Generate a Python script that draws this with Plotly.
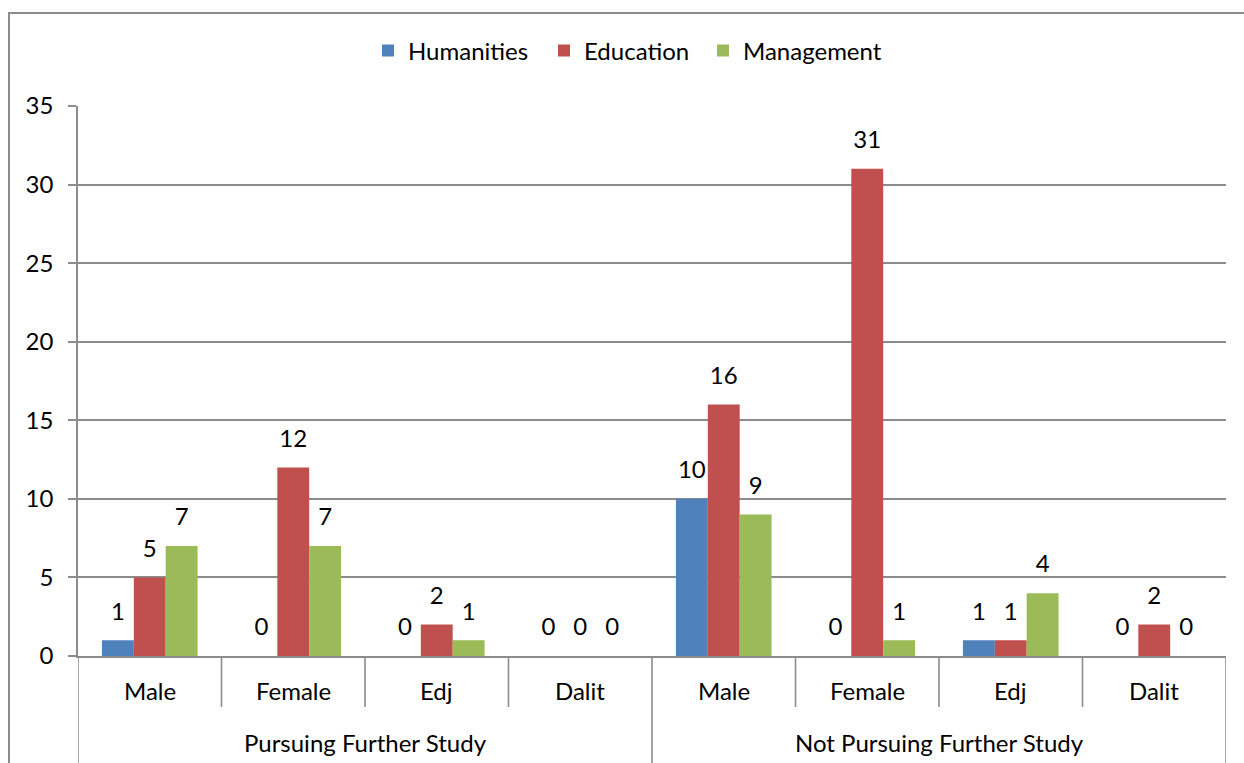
import plotly.graph_objects as go

groups = ["Pursuing Further Study", "Not Pursuing Further Study"]
subcats = ["Male", "Female", "Edj", "Dalit", "Male", "Female", "Edj", "Dalit"]
humanities = [1, 0, 0, 0, 10, 0, 1, 0]
education = [5, 12, 2, 0, 16, 31, 1, 2]
management = [7, 7, 1, 0, 9, 1, 4, 0]
series_names = ["Humanities", "Education", "Management"]
colors = ["#4F81BD", "#C0504D", "#9BBB59"]

FONT = "Lato"
FS = 24
GRID = "#8c8c8c"
xpos = list(range(len(subcats)))

L, R, T, B = 78, 18, 106, 107
W, H = 1244, 763
pw, ph = W - L - R, H - T - B

legend_ids = ["legend", "legend2", "legend3"]
legend_text_x = [408, 584, 743]  # pixel x where each legend label starts

fig = go.Figure()
for name, vals, col, lid in zip(series_names, [humanities, education, management], colors, legend_ids):
    fig.add_trace(go.Bar(x=xpos, y=vals, name=name, marker_color=col, marker_line_width=0,
                         offsetgroup=name, hoverinfo="skip", legend=lid))
for name, vals in zip(series_names, [humanities, education, management]):
    fig.add_trace(go.Scatter(x=xpos, y=vals, mode="markers+text", text=[str(v) for v in vals],
                             textposition="top center", offsetgroup=name,
                             marker=dict(size=22, opacity=0), showlegend=False,
                             textfont=dict(family=FONT, size=FS, color="black"),
                             cliponaxis=False, hoverinfo="skip"))

legend_kw = {}
for lid, tx in zip(legend_ids, legend_text_x):
    legend_kw[lid] = dict(orientation="h", x=(tx - 40 - L) / pw, xanchor="left",
                          y=(H - 51 - B) / ph, yanchor="middle",
                          font=dict(family=FONT, size=FS), itemwidth=30,
                          bgcolor="rgba(0,0,0,0)")

fig.update_layout(
    width=W, height=H,
    margin=dict(l=L, r=R, t=T, b=B, autoexpand=False),
    paper_bgcolor="white", plot_bgcolor="white",
    barmode="group", bargap=1/3, bargroupgap=0,
    scattermode="group", scattergap=1/3,
    font=dict(family=FONT, size=FS, color="black"),
    showlegend=True,
    **legend_kw,
)
fig.update_yaxes(range=[0, 35], dtick=5, showgrid=True, gridcolor=GRID, gridwidth=1.6,
                 showline=True, linecolor=GRID, linewidth=1.6, ticks="outside",
                 tickcolor=GRID, ticklen=8, tickwidth=1.6, ticklabelstandoff=10,
                 tickfont=dict(family=FONT, size=FS), zeroline=False, automargin=False)
fig.update_xaxes(range=[-0.5, len(subcats) - 0.5], showticklabels=False, showgrid=False,
                 showline=True, linecolor=GRID, linewidth=1.6, ticks="", zeroline=False,
                 automargin=False)

# category axis table: ticks between categories, longer dividers between groups
n_per = len(subcats) // len(groups)
for b in range(len(subcats) + 1):
    long = b % n_per == 0
    fig.add_shape(type="line", xref="x", yref="paper", x0=b - 0.5, x1=b - 0.5,
                  y0=0, y1=-(110 if long else 51) / ph,
                  line=dict(color=GRID, width=1.6))
for i, s in enumerate(subcats):
    fig.add_annotation(x=i, xref="x", yref="paper", y=-34 / ph, text=s, showarrow=False,
                       yanchor="middle", font=dict(family=FONT, size=FS, color="black"))
for g, name in enumerate(groups):
    fig.add_annotation(x=g * n_per + (n_per - 1) / 2, xref="x", yref="paper", y=-86 / ph,
                       text=name, showarrow=False, yanchor="middle",
                       font=dict(family=FONT, size=FS, color="black"))
# chart border
fig.add_shape(type="rect", xref="paper", yref="paper",
              x0=(9 - L) / pw, x1=(W + 5 - L) / pw,
              y0=-(B + 5) / ph, y1=(H - 13 - B) / ph,
              line=dict(color=GRID, width=2), fillcolor="rgba(0,0,0,0)", layer="below")
fig.write_html("out.html", config={"displayModeBar": False},
               post_script="document.body.style.margin='0';")
